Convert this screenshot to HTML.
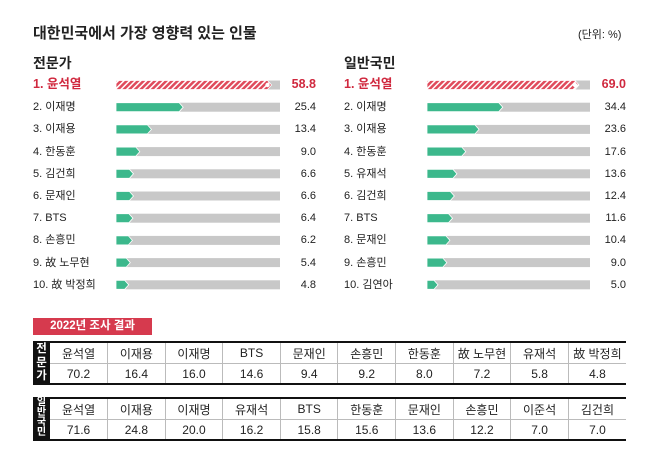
<!DOCTYPE html>
<html><head><meta charset="utf-8">
<style>
body{margin:0;width:658px;height:465px;background:#fff;font-family:"Liberation Sans","Noto Sans CJK KR",sans-serif;color:#222;position:relative;overflow:hidden}
.abs{position:absolute;white-space:nowrap}
.lbl{font-size:11px;line-height:12px}
.val{font-size:11px;line-height:12px;text-align:right;width:50px}
.red{color:#d0283e;font-weight:bold;font-size:12.5px}
table{position:absolute;border-collapse:collapse;font-size:12px;table-layout:fixed}
td{text-align:center;height:19px;border-left:1px solid #bbb;padding:0;overflow:hidden;white-space:nowrap}
</style></head><body>
<div class="abs" style="left:33px;top:22px;font-size:15px;font-weight:bold">대한민국에서 가장 영향력 있는 인물</div>
<div class="abs" style="left:578px;top:26px;font-size:11px">(단위: %)</div>
<div class="abs" style="left:33px;top:53px;font-size:14px;font-weight:bold">전문가</div>
<div class="abs" style="left:344px;top:53px;font-size:14px;font-weight:bold">일반국민</div>
<svg id="chart" class="abs" style="left:0;top:0" width="658" height="300">
<defs><pattern id="hatch" width="4" height="4" patternUnits="userSpaceOnUse" patternTransform="rotate(45)"><rect width="4" height="4" fill="#e04b5c"/><rect width="1.5" height="4" fill="#fff"/></pattern></defs>
</svg>
<div id="labels"></div>
<div class="abs" style="left:33px;top:318px;width:119px;height:17px;background:#d63a4e;color:#fff;font-size:11.5px;font-weight:bold;text-align:center;line-height:17px">2022년 조사 결과</div>
<div id="tables"></div>
<script>
const expertNames=["윤석열","이재명","이재용","한동훈","김건희","문재인","BTS","손흥민","故 노무현","故 박정희"];
const expertValues=[58.8,25.4,13.4,9.0,6.6,6.6,6.4,6.2,5.4,4.8];
const publicNames=["윤석열","이재명","이재용","한동훈","유재석","김건희","BTS","문재인","손흥민","김연아"];
const publicValues=[69.0,34.4,23.6,17.6,13.6,12.4,11.6,10.4,9.0,5.0];
const t22ExpertNames=["윤석열","이재용","이재명","BTS","문재인","손흥민","한동훈","故 노무현","유재석","故 박정희"];
const t22ExpertValues=["70.2","16.4","16.0","14.6","9.4","9.2","8.0","7.2","5.8","4.8"];
const t22PublicNames=["윤석열","이재용","이재명","유재석","BTS","한동훈","문재인","손흥민","이준석","김건희"];
const t22PublicValues=["71.6","24.8","20.0","16.2","15.8","15.6","13.6","12.2","7.0","7.0"];
const svg=document.getElementById('chart');const NS="http://www.w3.org/2000/svg";
const lab=document.getElementById('labels');
function panel(names,vals,lx,bx,bw,vmax,vx,key){
  const x=v=>bx+v/vmax*bw;
  names.forEach((n,i)=>{
    const cy=85+i*22.2;
    const tr=document.createElementNS(NS,'rect');
    tr.setAttribute('x',bx);tr.setAttribute('y',cy-4.5);tr.setAttribute('width',bw);tr.setAttribute('height',9);tr.setAttribute('fill','#c8c8c8');
    
    
    svg.appendChild(tr);
    const xe=x(vals[i]);
    const p=document.createElementNS(NS,'path');
    p.setAttribute('d',`M${bx},${cy-4.5}L${xe-4},${cy-4.5}L${xe},${cy}L${xe-4},${cy+4.5}L${bx},${cy+4.5}Z`);
    p.setAttribute('fill',i==0?'url(#hatch)':'#3cb88c');
    p.setAttribute('stroke','#fff');p.setAttribute('stroke-width','0.8');
    
    
    svg.appendChild(p);
    if(i==0){const c=document.createElementNS(NS,'circle');c.setAttribute('cx',xe-4);c.setAttribute('cy',cy);c.setAttribute('r',2.2);c.setAttribute('fill','#fff');svg.appendChild(c);}
    const l=document.createElement('div');l.className='abs lbl'+(i==0?' red':'');
    l.style.left=lx+'px';l.style.top=(cy-6-(i==0?1:0))+'px';l.textContent=(i+1)+'. '+n;
    
    
    lab.appendChild(l);
    const v=document.createElement('div');v.className='abs val'+(i==0?' red':'');
    v.style.left=(vx-50)+'px';v.style.top=(cy-6-(i==0?1:0))+'px';v.textContent=vals[i].toFixed(1);
    
    
    lab.appendChild(v);
  });
}
panel(expertNames,expertValues,33,116,164,62,316,'expert');
panel(publicNames,publicValues,344,427,163,74,626,'public');
const tw=document.getElementById('tables');
function table(top,title,names,vals,key){
  const b=document.createElement('div');b.className='abs';
  const lh=title.length>3?10:13.5;
  b.style.cssText=`left:33px;top:${top}px;width:17px;height:44px;background:#111;color:#fff;font-size:${title.length>3?10:11.5}px;font-weight:bold;line-height:${lh}px;text-align:center;white-space:normal;padding-top:${title.length>3?1:2}px;box-sizing:border-box;overflow:hidden`;
  b.innerHTML=title.split('').join('<br>');
  
  
  tw.appendChild(b);
  const t=document.createElement('table');
  t.style.cssText=`left:50px;top:${top}px;width:576px;border-top:2px solid #111;border-bottom:2px solid #111`;
  
  
  let r1='<tr>'+names.map((n,i)=>`<td style="height:20px;border-bottom:1px solid #bbb${i==0?';border-left:none':''}">${n}</td>`).join('')+'</tr>';
  let r2='<tr>'+vals.map((v,i)=>`<td style="height:19px${i==0?';border-left:none':''}">${v}</td>`).join('')+'</tr>';
  t.innerHTML=r1+r2;tw.appendChild(t);
}
table(341,'전문가',t22ExpertNames,t22ExpertValues,'expert-2022');
table(397,'일반국민',t22PublicNames,t22PublicValues,'public-2022');
</script>
</body></html>
